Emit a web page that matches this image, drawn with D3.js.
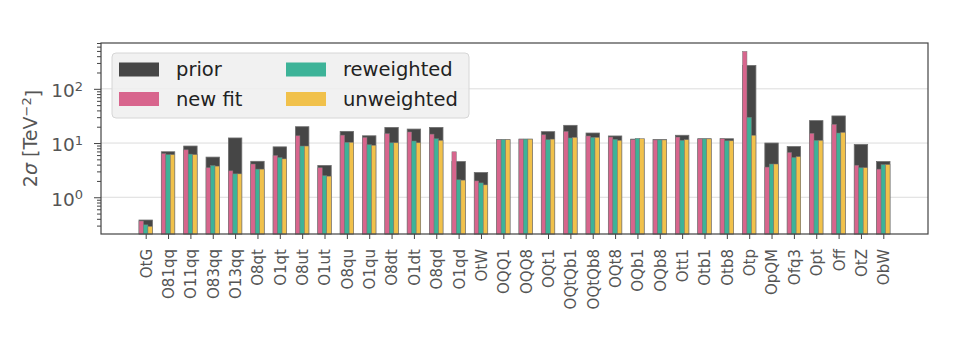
<!DOCTYPE html>
<meta charset="utf-8">
<style>
body { margin: 0; background: #fff; }
text { font-family: "DejaVu Sans", sans-serif; }
.grid line { stroke: #dcdcdc; stroke-width: 1; }
.xaxis text { fill: #555; font-size: 15px; }
.yaxis text { fill: #555; font-size: 18.5px; }
.xaxis line, .yaxis line { stroke: #444; }
.xaxis path, .yaxis path { display: none; }
</style>
<body>
<script src="https://d3js.org/d3.v7.min.js"></script>
<script>
// categories and values
var categories = ["OtG","O81qq","O11qq","O83qq","O13qq","O8qt","O1qt","O8ut","O1ut","O8qu","O1qu","O8dt","O1dt","O8qd","O1qd","OtW","OQQ1","OQQ8","OQt1","OQtQb1","OQtQb8","OQt8","OQb1","OQb8","Ott1","Otb1","Otb8","Otp","OpQM","Ofq3","Opt","Off","OtZ","ObW"];
var prior = [0.38,6.9,8.8,5.5,12.4,4.6,8.5,20,3.85,16.4,13.6,19.4,18.1,19.4,4.55,2.85,11.5,11.8,16.2,21.2,15.3,13.5,11.8,11.6,13.9,12,12,270,10,8.6,25.9,31.6,9.4,4.55];
var newFit = [0.365,6.4,7.5,3.5,3.07,4.1,5.9,13.6,3.5,14,12.7,14.9,16,14.6,6.9,2.0,11.5,11.8,14.2,16.4,13.5,12.9,11.5,11.4,12.9,11.9,12,490,3.6,6.7,15.1,22.1,3.9,3.3];
var reweighted = [0.31,6.1,6.25,3.85,2.7,3.3,5.4,8.8,2.5,10.3,9.3,10.1,10.9,12,2.1,1.84,11.5,11.8,11.5,12.4,12.7,11.7,12.2,11.4,11.2,11.9,11,29.8,4.1,5.4,11.2,15.3,3.5,4.0];
var unweighted = [0.29,6.1,6.1,3.75,2.7,3.3,5.1,8.8,2.45,10.3,9.1,10.1,10.1,11.2,2.07,1.69,11.5,11.8,11.8,12.7,12.7,11.2,12,11.4,11.5,11.9,11,13.9,4.1,5.6,11.2,15.7,3.5,4.0];
var majorTicks = [1, 10, 100];
var seriesNames = ["prior", "new fit", "reweighted", "unweighted"];
var colors = ["#464646", "#d8658d", "#3db398", "#f1c14b"];

var W = 963, H = 340;
var plotLeft = 101, plotRight = 928, plotTop = 43, plotBottom = 234;

var svg = d3.select("body").append("svg")
    .attr("width", W).attr("height", H);

var x = d3.scaleLinear().domain([-2, 35]).range([plotLeft, plotRight]);
var y = d3.scaleLog().domain([0.21, 700]).range([plotBottom, plotTop]);
var band = x(1) - x(0);

// grid
svg.append("g").attr("class", "grid")
  .selectAll("line").data(majorTicks).enter().append("line")
    .attr("x1", plotLeft).attr("x2", plotRight)
    .attr("y1", function(d) { return y(d); })
    .attr("y2", function(d) { return y(d); });

// prior bars (wide)
svg.append("g").selectAll("rect").data(prior).enter().append("rect")
    .attr("x", function(d, i) { return x(i) - 0.3 * band; })
    .attr("width", 0.6 * band)
    .attr("y", function(d) { return y(d); })
    .attr("height", function(d) { return plotBottom - y(d); })
    .attr("fill", colors[0])
    .attr("stroke", "#6e6e6e").attr("stroke-width", 0.8);

// narrow bars
var narrow = [newFit, reweighted, unweighted];
narrow.forEach(function(vals, k) {
  svg.append("g").selectAll("rect").data(vals).enter().append("rect")
      .attr("x", function(d, i) { return x(i) + (k - 1.5) * 0.2 * band; })
      .attr("width", 0.2 * band)
      .attr("y", function(d) { return y(d); })
      .attr("height", function(d) { return plotBottom - y(d); })
      .attr("fill", colors[k + 1])
      .attr("stroke", "#7a7a7a").attr("stroke-width", 0.5);
});

// x axis
var xAxis = svg.append("g").attr("class", "xaxis")
    .attr("transform", "translate(0," + plotBottom + ")")
    .call(d3.axisBottom(x).tickValues(d3.range(categories.length))
      .tickFormat(function(i) { return categories[i]; })
      .tickSize(5).tickPadding(6));
xAxis.selectAll("text")
    .attr("transform", "rotate(-90)")
    .attr("x", -15).attr("y", 0).attr("dy", "0.36em")
    .style("text-anchor", "end");

// y axis, minor ticks
svg.append("g").attr("class", "yaxis")
    .attr("transform", "translate(" + plotLeft + ",0)")
    .call(d3.axisLeft(y)
      .tickValues(y.ticks().filter(function(d) { return majorTicks.indexOf(d) < 0; }))
      .tickSize(4).tickFormat(""));

// y axis, major ticks with 10^n labels
var yAxis = svg.append("g").attr("class", "yaxis")
    .attr("transform", "translate(" + plotLeft + ",0)")
    .call(d3.axisLeft(y).tickValues(majorTicks).tickSize(7).tickFormat(""));
yAxis.selectAll(".tick").append("text")
    .attr("x", -18).attr("dy", "0.42em")
    .attr("text-anchor", "end")
    .each(function(d) {
      var t = d3.select(this);
      t.append("tspan").text("10");
      t.append("tspan").attr("dy", "-0.5em").style("font-size", "13px")
        .text(Math.round(Math.log10(d)));
    });

// frame
svg.append("rect")
    .attr("x", plotLeft).attr("y", plotTop)
    .attr("width", plotRight - plotLeft).attr("height", plotBottom - plotTop)
    .attr("fill", "none").attr("stroke", "#444").attr("stroke-width", 1.2);

// y label
var yl = svg.append("text")
    .attr("transform", "translate(37," + ((plotTop + plotBottom) / 2) + ") rotate(-90)")
    .attr("text-anchor", "middle")
    .style("font-size", "19px").style("fill", "#555");
yl.append("tspan").text("2");
yl.append("tspan").style("font-style", "italic").text("σ");
yl.append("tspan").text(" [TeV");
yl.append("tspan").attr("dy", "-0.5em").style("font-size", "13px").text("−2");
yl.append("tspan").attr("dy", "0.5em").text("]");

// legend
var lg = svg.append("g");
lg.append("rect")
    .attr("x", 112).attr("y", 53).attr("width", 357).attr("height", 65).attr("rx", 4)
    .attr("fill", "#efefef").attr("fill-opacity", 0.85)
    .attr("stroke", "#d6d6d6");
var items = lg.selectAll("g.item").data(seriesNames).enter().append("g")
    .attr("transform", function(d, i) {
      return "translate(" + (i < 2 ? 119 : 286) + "," + (i % 2 === 0 ? 62.5 : 92) + ")";
    });
items.append("rect")
    .attr("width", 40).attr("height", 14)
    .attr("fill", function(d, i) { return colors[i]; });
items.append("text")
    .attr("x", 57).attr("y", 7).attr("dy", "0.35em")
    .style("font-size", "19.5px").style("fill", "#222")
    .text(function(d) { return d; });
</script>
</body>
